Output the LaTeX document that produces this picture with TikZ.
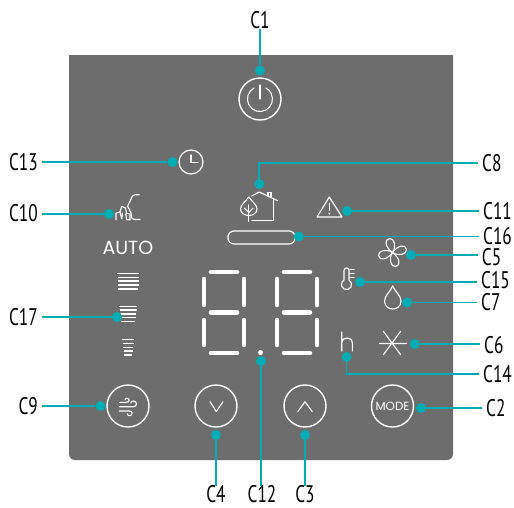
\documentclass[tikz,border=0pt]{standalone}
\usepackage{fontspec}
\setmainfont{PT Sans}
\newfontfamily\labfont[FakeStretch=0.72]{PT Sans}
\newfontfamily\iconfont{Poppins}
\definecolor{panel}{HTML}{6D6D6D}
\definecolor{teal}{HTML}{00ADB5}
\tikzset{
  lab/.style={font=\labfont\fontsize{24}{24}\selectfont,text=black,inner xsep=4pt,inner ysep=0pt},
  dot/.style={circle,fill=teal,minimum size=10pt,inner sep=0pt},
  conn/.style={draw=teal,line width=1.7pt},
  ico/.style={draw=white,line width=1.1pt,line cap=round,line join=round},
  btn/.style={circle,draw=white,line width=1.4pt,minimum size=42pt,inner sep=0pt},
  seg/.style={draw=white,line width=4.6pt,line cap=round},
  bar/.style={draw=white,line width=1.4pt}
}
\begin{document}
\begin{tikzpicture}[x=1pt,y=-1pt]
\useasboundingbox (0,0) rectangle (514,507);
\fill[white] (0,0) rectangle (514,507);
% panel
\fill[panel] (69,55) -- (453,55) -- (453,454) arc[start angle=0,end angle=90,radius=6] -- (75,460) arc[start angle=90,end angle=180,radius=6] -- cycle;
% buttons
\node[btn] (power) at (260,99) {};
\node[btn] (wind) at (128,406) {};
\node[btn] (down) at (216,406) {};
\node[btn] (up) at (305,406) {};
\node[btn,font=\iconfont\fontsize{11.8}{11.8}\selectfont,text=white] (mode) at (392.5,406) {MODE};
\node[font=\iconfont\fontsize{19}{19}\selectfont,text=white,inner sep=0pt] (auto) at (128,247.5) {AUTO};
\node[circle,draw=white,line width=1.2pt,minimum size=24pt,inner sep=0pt] (clock) at (191,162) {};
\node[draw=white,rounded corners=6pt,line width=1.2pt,minimum width=67pt,minimum height=13pt,inner sep=0pt] (pill) at (261.5,237.5) {};
\node[circle,fill=white,minimum size=5pt,inner sep=0pt] (point) at (260.5,352.5) {};
% power glyph
\draw[ico] (254.1,88) arc[start angle=-118,end angle=-422,radius=12.5];
\draw[ico] (260,85) -- (260,99);
% clock hands
\draw[ico] (191,155) -- (191,162.5) -- (198,162.5);
% chevrons
\draw[ico] (210,401.7) -- (216.3,411.5) -- (223,401.7);
\draw[ico] (297.7,411.7) -- (305,401.7) -- (312.3,411.7);
% wind
\draw[ico] (119.3,402.3) -- (126.5,402.3) .. controls (130,402.3) and (130,398.3) .. (127,398.3) .. controls (126,398.3) and (125,399) .. (125,399.8);
\draw[ico] (119.3,406.7) -- (133.5,406.7) .. controls (137.5,406.7) and (137.5,401) .. (133.3,401) .. controls (132,401) and (130.8,402) .. (130.8,403);
\draw[ico] (119.3,411) -- (129.5,411) .. controls (133,411) and (133,415.7) .. (129.5,415.7) .. controls (128.3,415.7) and (127.3,414.8) .. (127.3,413.8);
% person and city
\draw[ico] (139.3,194.7) -- (135.5,194.7) .. controls (131.5,194.7) and (131.5,199) .. (130,201.5) .. controls (129,204) and (127.5,205) .. (127.7,206.5) .. controls (128,209) and (131,210) .. (131,213) .. controls (131,216) and (131,219.5) .. (135,219.5) -- (140,219.5);
\draw[ico] (116,219.7) -- (116,213) -- (120,212) -- (121.7,206.3) -- (125.5,208) -- (126.7,213.5) -- (130,214) -- (130,219.7) -- (126.7,219.7) -- (125.7,214);
\draw[ico] (120,212) -- (121.7,218.7) -- (122.5,213);
% house with leaf
\draw[ico] (251.7,196) -- (259.3,192) -- (277.7,200.7);
\draw[ico] (273.5,198.5) -- (273.5,220.8) -- (252,220.8);
\draw[ico] (268,196) -- (268,192.7) -- (271,192.7) -- (271,197.5);
\draw[ico] (248.8,197) .. controls (245,202) and (240.5,205) .. (240.5,209) .. controls (240.5,213) and (244.5,215.5) .. (248.8,215.5) .. controls (253,215.5) and (257,213) .. (257,209) .. controls (257,205) and (252.5,202) .. (248.8,197) -- cycle;
\draw[ico] (248.8,205) -- (248.8,221.3);
\draw[ico] (244.5,208) -- (248.8,212.5) -- (253,208);
% warning
\draw[ico] (329.3,197) -- (342,217) -- (317,217) -- cycle;
\draw[ico] (329.3,203.5) -- (329.3,210.5);
\fill[white] (329.3,213.6) circle[radius=1.1];
% fan
\begin{scope}[shift={(392.5,252.5)}]
\foreach \a in {0,90,180,270}{
  \draw[ico,rotate=\a] (0,0) .. controls (-7,-5) and (-9,-13) .. (-3,-14) .. controls (2,-14.5) and (4,-6) .. (0,0);
}
\end{scope}
% thermometer
\draw[ico] (344,280) -- (344,270.5) arc[start angle=180,end angle=360,radius=2.5] -- (349,280) arc[start angle=-61,end angle=241,radius=5.15] -- cycle;
\draw[ico] (349.8,269.5) -- (354,269.5) (349.8,273.5) -- (354,273.5) (349.8,277.5) -- (354,277.5);
% drop
\draw[ico] (392.7,286) .. controls (390,292) and (384.5,296) .. (384.5,301) .. controls (384.5,306) and (388.5,309) .. (392.7,309) .. controls (397,309) and (401,306) .. (401,301) .. controls (401,296) and (395.5,292) .. (392.7,286) -- cycle;
% asterisk
\draw[ico] (379.5,343.5) -- (406.5,343.5) (383.5,331.5) -- (400.5,354.5) (400.5,331.5) -- (383.5,354.5);
% h
\draw[ico] (341.7,332) -- (341.7,351) (341.7,342) .. controls (342.5,337) and (352,336) .. (352.3,343) -- (352.3,351);
% speed bars
\foreach \yy/\d in {273.7/0,277.3/0.3,281/0.5,285/0.8,289/1} {\draw[bar] (117.3+\d,\yy) -- (139.3-\d,\yy);}
\foreach \yy/\d in {306.3/0,310/0.5,314/1,317.7/1.5,321.7/2} {\draw[bar] (119.3+\d,\yy) -- (137-\d,\yy);}
\foreach \yy/\d in {339.7/0,343.3/0.4,347.3/0.8,351/1.2,355/1.6} {\draw[bar] (122.3+\d,\yy) -- (134-\d,\yy);}
% digits
\foreach \dx in {0,73}{
  \draw[seg] (211+\dx,272) -- (237+\dx,272);
  \draw[seg] (211+\dx,312.3) -- (237+\dx,312.3);
  \draw[seg] (211+\dx,353) -- (237+\dx,353);
  \draw[seg] (204+\dx,279) -- (204+\dx,305);
  \draw[seg] (204+\dx,320) -- (204+\dx,345);
  \draw[seg] (244+\dx,279) -- (244+\dx,305);
  \draw[seg] (244+\dx,320) -- (244+\dx,345);
}
% label nodes
\node[lab] (lC1) at (260,20.5) {C1};
\node[lab,anchor=east] (lC13) at (42,162) {C13};
\node[lab,anchor=east] (lC10) at (42,213.5) {C10};
\node[lab,anchor=east] (lC17) at (42,317) {C17};
\node[lab,anchor=east] (lC9) at (42,406) {C9};
\node[lab] (lC4) at (216,494.5) {C4};
\node[lab] (lC12) at (262,494.5) {C12};
\node[lab] (lC3) at (305,494.5) {C3};
\node[lab,anchor=west] (lC8) at (478,163) {C8};
\node[lab,anchor=west] (lC11) at (479,211) {C11};
\node[lab,anchor=west] (lC16) at (479,236) {C16};
\node[lab,anchor=west] (lC5) at (477.7,257) {C5};
\node[lab,anchor=west] (lC15) at (477,280) {C15};
\node[lab,anchor=west] (lC7) at (477,302) {C7};
\node[lab,anchor=west] (lC6) at (480,345) {C6};
\node[lab,anchor=west] (lC14) at (479,374) {C14};
\node[lab,anchor=west] (lC2) at (482,408) {C2};
% dots
\node[dot] (dC1) at (260,70.5) {};
\node[dot] (dC13) at (172.5,162) {};
\node[dot] (dC10) at (109,214) {};
\node[dot] (dC17) at (117,317) {};
\node[dot] (dC9) at (100.5,406) {};
\node[dot] (dC4) at (216,435) {};
\node[dot] (dC12) at (261,361) {};
\node[dot] (dC3) at (305,435) {};
\node[dot] (dC8) at (259.3,184) {};
\node[dot] (dC11) at (347,211) {};
\node[dot] (dC16) at (298.7,236.5) {};
\node[dot] (dC5) at (411,255) {};
\node[dot] (dC15) at (360,282) {};
\node[dot] (dC7) at (407,302.5) {};
\node[dot] (dC6) at (414.7,344) {};
\node[dot] (dC14) at (346.5,357) {};
\node[dot] (dC2) at (421,408) {};
% connectors
\draw[conn] (dC1) -- (lC1.south);
\draw[conn] (dC13) -- (dC13 -| lC13.east);
\draw[conn] (dC10) -- (dC10 -| lC10.east);
\draw[conn] (dC17) -- (dC17 -| lC17.east);
\draw[conn] (dC9) -- (dC9 -| lC9.east);
\draw[conn] (dC4) -- (dC4 |- lC4.north);
\draw[conn] (dC12) -- (dC12 |- lC12.north);
\draw[conn] (dC3) -- (dC3 |- lC3.north);
\draw[conn] (dC8) |- (lC8.west);
\draw[conn] (dC11) -- (dC11 -| lC11.west);
\draw[conn] (dC16) -- (dC16 -| lC16.west);
\draw[conn] (dC5) -- (dC5 -| lC5.west);
\draw[conn] (dC15) -- (dC15 -| lC15.west);
\draw[conn] (dC7) -- (dC7 -| lC7.west);
\draw[conn] (dC6) -- (dC6 -| lC6.west);
\draw[conn] (dC14) |- (lC14.west);
\draw[conn] (dC2) -- (dC2 -| lC2.west);
\end{tikzpicture}
\end{document}
